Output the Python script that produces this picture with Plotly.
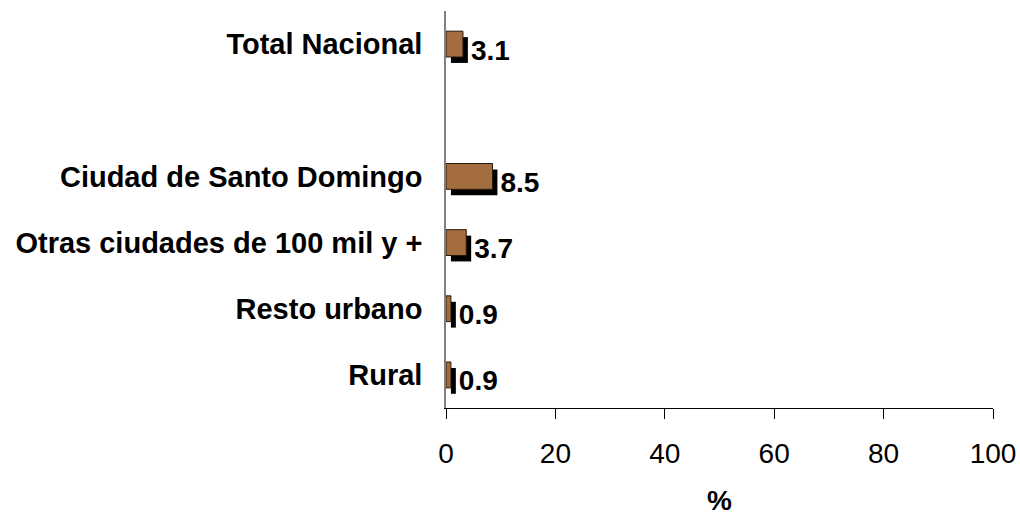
import plotly.graph_objects as go

categories = ["Total Nacional", " ", "Ciudad de Santo Domingo",
              "Otras ciudades de 100 mil y +", "Resto urbano", "Rural"]
values = [3.1, None, 8.5, 3.7, 0.9, 0.9]
labels = ["3.1", "", "8.5", "3.7", "0.9", "0.9"]
x_ticks = [0, 20, 40, 60, 80, 100]

FONT = "Liberation Sans, Arial, sans-serif"
bar_w = 0.39
shift_y = 0.09
shift_x = 0.9

fig = go.Figure()
# shadow
fig.add_trace(go.Bar(
    y=categories, x=values, base=shift_x, orientation="h",
    width=bar_w, offset=-bar_w / 2 + shift_y,
    marker=dict(color="black", line=dict(width=0)),
    text=labels, textposition="outside", cliponaxis=False,
    textfont=dict(family=FONT, size=28, color="black", weight="bold"),
    hoverinfo="skip", showlegend=False,
))
# main bars
fig.add_trace(go.Bar(
    y=categories, x=values, orientation="h",
    width=bar_w, offset=-bar_w / 2,
    marker=dict(color="#a46d3f", line=dict(color="#2a1a0c", width=1)),
    showlegend=False,
))

fig.update_layout(
    barmode="overlay",
    width=1020, height=516,
    margin=dict(l=446, r=27, t=11, b=108, autoexpand=False),
    paper_bgcolor="white", plot_bgcolor="white",
    font=dict(family=FONT, color="black"),
    uniformtext=dict(minsize=28, mode="show"),
    xaxis=dict(
        range=[0, 100], tickvals=x_ticks, ticks="outside", ticklen=10,
        tickcolor="black", showline=True, linecolor="black", linewidth=1,
        showgrid=False, zeroline=False, automargin=False,
        ticklabelstandoff=10,
        tickfont=dict(size=28, family=FONT),
        title=dict(text="%", font=dict(size=28, family=FONT, weight="bold"), standoff=26),
    ),
    yaxis=dict(
        categoryorder="array", categoryarray=categories, autorange="reversed",
        showline=True, linecolor="#808080", linewidth=1.5, showgrid=False,
        ticks="", ticklabelstandoff=16, automargin=False,
        tickfont=dict(size=29, family=FONT, weight="bold"),
    ),
)

fig.write_html(
    "out.html",
    config={"displayModeBar": False},
    post_script="document.body.style.margin='0px';document.body.style.padding='0px';",
)
